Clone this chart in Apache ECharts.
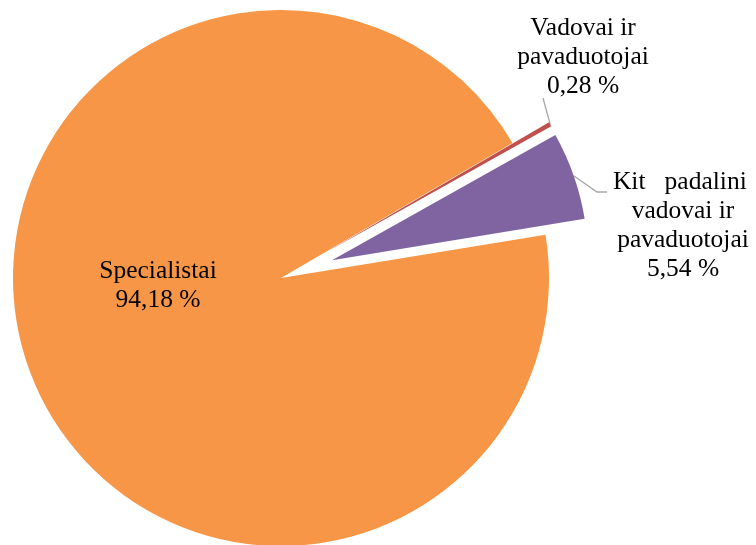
<!DOCTYPE html>
<html>
<head>
<meta charset="utf-8">
<script src="https://cdn.jsdelivr.net/npm/echarts@6/dist/echarts.min.js"></script>
<style>
  html, body { margin: 0; padding: 0; background: #fff; }
  #pie { width: 756px; height: 545px; }
</style>
</head>
<body>
<div id="pie"></div>
<script>
// pareigybių pasiskirstymas, %
var names = ['Specialistai', 'Vadovai ir\npavaduotojai', 'Kit   padalini \nvadovai ir\npavaduotojai'];
var values = [94.18, 0.28, 5.54];
var colors = ['#F79646', '#C0504D', '#8064A2'];
var exploded = [false, true, true];

// label centres (px) and where the leader line bends / ends, relative to the label centre
var labelPos = [[158, 286], [583, 57], [683, 226]];
var lineBend = [null, [-40, 41], [-86, -34]];
var lineEnd = [null, [-40, 41], [-76, -34]];

var center = [281, 278];
var startAngle = 9.3;
var explodeDist = 54;

function fmt(v) {
    return v.toFixed(2).replace('.', ',') + ' %';
}

var total = values.reduce(function (a, b) { return a + b; }, 0);

function midAngle(i) {
    var before = 0;
    for (var k = 0; k < i; k++) before += values[k];
    return (startAngle - 360 * (before + values[i] / 2) / total) * Math.PI / 180;
}

// centre of a slice, pushed out along its middle angle
function sliceCenter(i) {
    if (!exploded[i]) return center;
    var mid = midAngle(i);
    return [center[0] + explodeDist * Math.cos(mid), center[1] - explodeDist * Math.sin(mid)];
}

function radiusOf(i) {
    return exploded[i] ? 256 : 268;
}

var textStyle = {
    fontFamily: 'Liberation Serif',
    fontSize: 25.5,
    lineHeight: 29,
    color: '#000'
};

var chart = echarts.init(document.getElementById('pie'));

// one pie per slice, so exploded ones can sit on their own centre
var series = names.map(function (n, i) {
    return {
        type: 'pie',
        center: sliceCenter(i),
        radius: [0, radiusOf(i)],
        startAngle: startAngle,
        clockwise: true,
        avoidLabelOverlap: false,
        silent: true,
        itemStyle: { borderWidth: 0 },
        label: Object.assign({
            show: true,
            position: exploded[i] ? 'outside' : 'inside',
            formatter: function (p) { return p.name + '\n' + fmt(p.value); }
        }, textStyle),
        labelLine: {
            show: exploded[i],
            length: 20,
            length2: 10,
            lineStyle: { color: '#A6A6A6', width: 1.3 }
        },
        labelLayout: function (params) {
            if (params.dataIndex !== i) return {};
            var p = labelPos[i];
            var res = { x: p[0], y: p[1], align: 'center', verticalAlign: 'middle' };
            if (exploded[i]) {
                var c = sliceCenter(i), mid = midAngle(i), r = radiusOf(i);
                res.labelLinePoints = [
                    [c[0] + r * Math.cos(mid), c[1] - r * Math.sin(mid)],
                    [p[0] + lineBend[i][0], p[1] + lineBend[i][1]],
                    [p[0] + lineEnd[i][0], p[1] + lineEnd[i][1]]
                ];
            }
            return res;
        },
        data: names.map(function (m, j) {
            return {
                name: m, value: values[j],
                itemStyle: { color: j === i ? colors[j] : 'rgba(0,0,0,0)' },
                label: { show: j === i },
                labelLine: { show: j === i && exploded[i] }
            };
        })
    };
});

chart.setOption({
    animation: false,
    backgroundColor: '#fff',
    series: series
});
</script>
</body>
</html>
